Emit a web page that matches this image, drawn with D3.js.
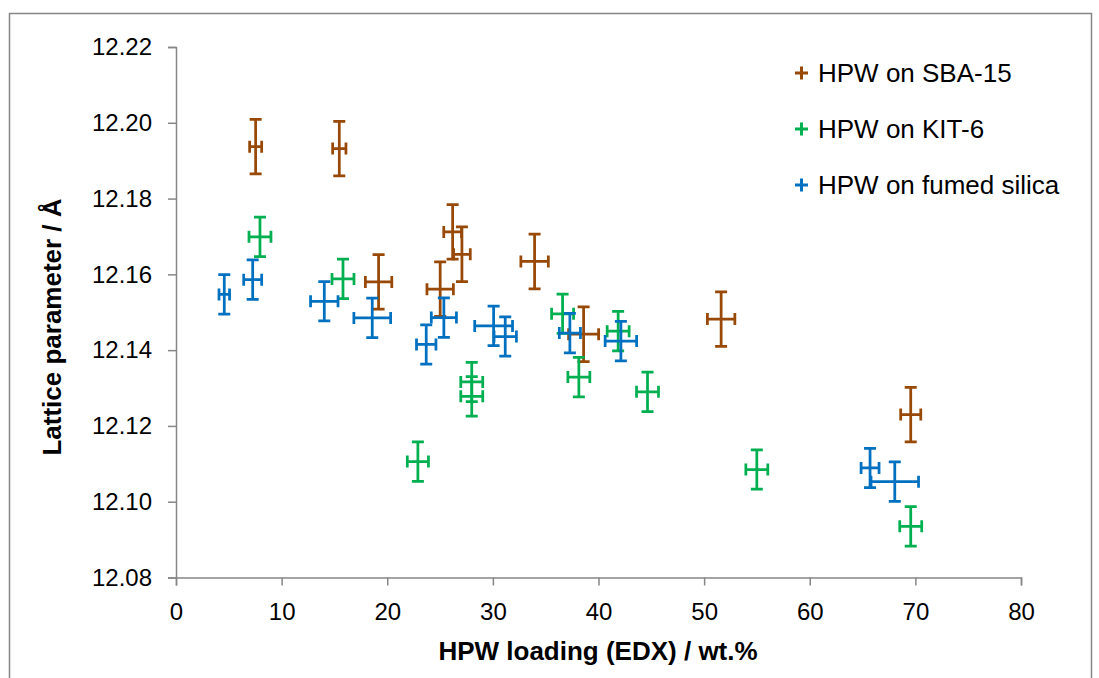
<!DOCTYPE html>
<html>
<head>
<meta charset="utf-8">
<script src="https://cdn.jsdelivr.net/npm/d3@7"></script>
<style>
  body { margin: 0; background: #fff; }
  svg text { font-family: "Liberation Sans", Arial, sans-serif; fill: #000; }
</style>
</head>
<body>
<div id="chart"></div>
<script>
// series: HPW on SBA-15
const sbaX = [7.54, 15.46, 19.18, 26.19, 27.07, 25.01, 33.95, 38.59, 51.61, 69.56];
const sbaY = [12.1937, 12.1932, 12.1580, 12.1712, 12.1653, 12.1561, 12.1634, 12.1442, 12.1482, 12.1230];
const sbaXErr = [0.57, 0.63, 1.25, 0.84, 0.79, 1.25, 1.3, 1.42, 1.3, 0.95];
const sbaYErr = [0.0072, 0.0072, 0.0072, 0.0072, 0.0072, 0.0072, 0.0072, 0.0072, 0.0072, 0.0072];

// series: HPW on KIT-6
const kitX = [7.95, 15.81, 22.9, 28.0, 28.0, 36.6, 38.14, 41.86, 44.64, 54.99, 69.56];
const kitY = [12.1699, 12.1588, 12.1106, 12.1316, 12.1278, 12.1496, 12.1329, 12.145, 12.129, 12.1085, 12.0935];
const kitXErr = [1.04, 1.04, 1.0, 1.04, 1.04, 1.04, 1.04, 1.04, 1.04, 1.04, 1.04];
const kitYErr = [0.0052, 0.0052, 0.0052, 0.0052, 0.0052, 0.0052, 0.0052, 0.0052, 0.0052, 0.0052, 0.0052];

// series: HPW on fumed silica
const fumX = [4.57, 7.26, 14.04, 18.58, 23.69, 25.36, 30.07, 31.17, 37.29, 42.12, 65.71, 68.05];
const fumY = [12.1547, 12.1586, 12.1529, 12.1485, 12.1415, 12.1486, 12.1464, 12.1436, 12.1445, 12.1424, 12.1089, 12.1053];
const fumXErr = [0.5, 0.85, 1.3, 1.74, 0.92, 1.19, 1.79, 1.06, 1.0, 1.49, 0.85, 2.25];
const fumYErr = [0.0052, 0.0052, 0.0052, 0.0052, 0.0052, 0.0052, 0.0052, 0.0052, 0.0052, 0.0052, 0.0052, 0.0052];

const seriesNames = ['HPW on SBA-15', 'HPW on KIT-6', 'HPW on fumed silica'];
const seriesColors = ['#984807', '#00b050', '#0070c0'];
const xTicks = [0, 10, 20, 30, 40, 50, 60, 70, 80];
const yTicks = [12.08, 12.10, 12.12, 12.14, 12.16, 12.18, 12.20, 12.22];

const width = 1099;
const height = 678;
const plot = { left: 176, right: 1021, top: 47, bottom: 577.5 };
const cap = 6;

const svg = d3.select('#chart')
  .append('svg')
  .attr('width', width)
  .attr('height', height);

// outer chart frame
svg.append('rect')
  .attr('x', 9.5).attr('y', 13.5)
  .attr('width', 1082).attr('height', 720)
  .attr('fill', 'none')
  .attr('stroke', '#868686')
  .attr('stroke-width', 1.5);

const x = d3.scaleLinear().domain([0, 80]).range([plot.left, plot.right]);
const y = d3.scaleLinear().domain([12.08, 12.22]).range([plot.bottom, plot.top]);

const xAxis = svg.append('g')
  .attr('transform', `translate(0,${plot.bottom})`)
  .call(d3.axisBottom(x).tickValues(xTicks).tickSize(8).tickSizeOuter(8).tickPadding(17).tickFormat(d3.format('d')));

const yAxis = svg.append('g')
  .attr('transform', `translate(${plot.left},0)`)
  .call(d3.axisLeft(y).tickValues(yTicks).tickSize(8).tickSizeOuter(8).tickPadding(16).tickFormat(d3.format('.2f')));

[xAxis, yAxis].forEach(a => {
  a.select('.domain').attr('stroke', '#868686').attr('stroke-width', 1.5);
  a.selectAll('.tick line').attr('stroke', '#868686').attr('stroke-width', 1.5);
  a.selectAll('.tick text').style('font-size', '24px').attr('fill', '#000');
});

// axis titles
svg.append('text')
  .attr('x', 598)
  .attr('y', 660)
  .attr('text-anchor', 'middle')
  .style('font-size', '26px')
  .style('font-weight', 'bold')
  .text('HPW loading (EDX) / wt.%');

svg.append('text')
  .attr('transform', 'translate(61,327) rotate(-90)')
  .attr('text-anchor', 'middle')
  .style('font-size', '26px')
  .style('font-weight', 'bold')
  .text('Lattice parameter / Å');

const seriesData = [
  sbaX.map((v, i) => ({ x: v, y: sbaY[i], ex: sbaXErr[i], ey: sbaYErr[i] })),
  kitX.map((v, i) => ({ x: v, y: kitY[i], ex: kitXErr[i], ey: kitYErr[i] })),
  fumX.map((v, i) => ({ x: v, y: fumY[i], ex: fumXErr[i], ey: fumYErr[i] }))
];

// error bar crosses, drawn in series order
seriesData.forEach((data, s) => {
  const g = svg.append('g')
    .attr('stroke', seriesColors[s])
    .attr('stroke-width', 2.75)
    .attr('fill', 'none');

  const pts = g.selectAll('g.pt').data(data).enter().append('g').attr('class', 'pt');

  pts.append('path')
    .attr('d', d => {
      const cx = x(d.x), cy = y(d.y);
      const x0 = x(d.x - d.ex), x1 = x(d.x + d.ex);
      const y0 = y(d.y + d.ey), y1 = y(d.y - d.ey);
      return `M${x0},${cy}H${x1}` +
        `M${x0},${cy - cap}V${cy + cap}M${x1},${cy - cap}V${cy + cap}` +
        `M${cx},${y0}V${y1}` +
        `M${cx - cap},${y0}H${cx + cap}M${cx - cap},${y1}H${cx + cap}`;
    });
});

// legend
const legend = svg.append('g');
seriesNames.forEach((name, i) => {
  const ly = 73 + i * 56;
  legend.append('path')
    .attr('d', `M795,${ly}H808M801.5,${ly - 6.5}V${ly + 6.5}`)
    .attr('stroke', seriesColors[i])
    .attr('stroke-width', 3);
  legend.append('text')
    .attr('x', 818)
    .attr('y', ly)
    .attr('dy', '0.35em')
    .style('font-size', '26px')
    .text(name);
});
</script>
</body>
</html>
